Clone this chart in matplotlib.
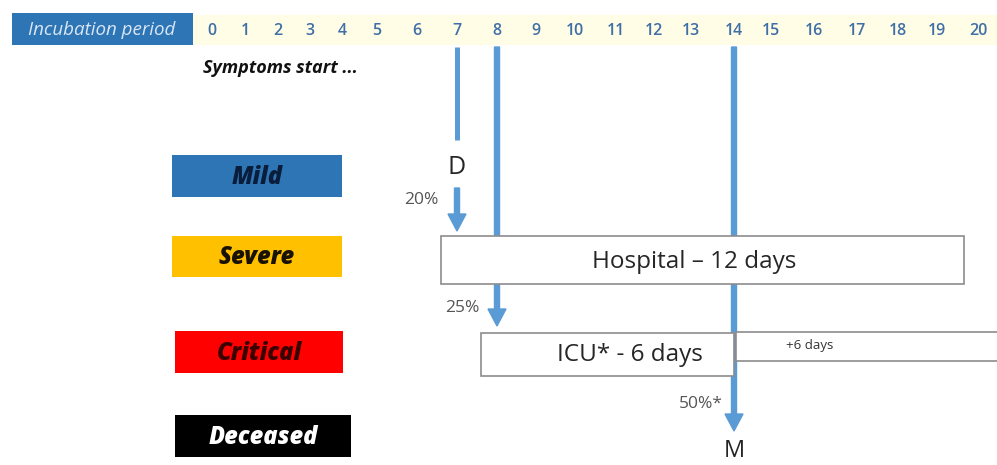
import numpy as np
import matplotlib
matplotlib.use('Agg')
import matplotlib.pyplot as plt
from matplotlib.patches import Rectangle

plt.rcParams['font.family'] = ['Open Sans', 'DejaVu Sans']

# data
days = list(range(21))
categories = ['Mild', 'Severe', 'Critical', 'Deceased']
cat_colors = ['#2E75B6', '#FFC000', '#FF0000', '#000000']
cat_text_colors = ['#0A1E3C', '#1A1200', '#3A0000', '#FFFFFF']
arrow_days = [7, 8, 14]
arrow_pcts = ['20%', '25%', '50%*']
hospital_span = (6.6, 19.65)
icu_span = (7.6, 14)
extra_span = (14, 20.6)
hospital_label = 'Hospital \u2013 12 days'
icu_label = 'ICU* - 6 days'
extra_label = '+6 days'

# layout (pixel positions of day ticks in header)
tick_px = [212, 245, 278, 310, 342, 377, 417, 457, 497, 536, 575,
           616, 654, 691, 734, 771, 814, 857, 898, 937, 978]

def day_x(d):
    return np.interp(d, days, tick_px, right=tick_px[-1] + (d - days[-1]) * 40)

arrow_col = '#5B9BD5'
edge_col = '#8C8C8C'
text_col = '#262626'

fig = plt.figure(figsize=(9.97, 4.65), dpi=100, facecolor='white')
ax = fig.add_axes([0, 0, 1, 1])
ax.set_xlim(0, 997)
ax.set_ylim(465, 0)
ax.axis('off')

# header
ax.add_patch(Rectangle((193, 15), 804, 30, facecolor='#FFFDE6', edgecolor='none', zorder=1))
ax.add_patch(Rectangle((12, 13), 181, 32, facecolor='#2E75B6', edgecolor='none', zorder=2))
ax.text(102, 30, 'Incubation period', color='#D9E6F5', fontsize=13.5, style='italic',
        ha='center', va='center', zorder=3)
for d in days:
    ax.text(day_x(d), 31, str(d), color='#3F6FA6', fontsize=11.5, fontweight='semibold',
            ha='center', va='center', zorder=3)
ax.text(203, 68, 'Symptoms start ...', fontsize=13, fontweight='bold', style='italic',
        ha='left', va='center', color='#111111')

# category boxes
cat_boxes = [(172, 155, 170, 42), (172, 236, 170, 41), (175, 331, 168, 42), (175, 415, 176, 42)]
for (x0, y0, w, h), name, fc, tc in zip(cat_boxes, categories, cat_colors, cat_text_colors):
    ax.add_patch(Rectangle((x0, y0), w, h, facecolor=fc, edgecolor='none', zorder=2))
    ax.text(x0 + w / 2, y0 + h / 2 + 1, name, color=tc, fontsize=17, fontweight='heavy',
            style='italic', ha='center', va='center', zorder=3)

# arrows
def draw_arrow(x, y0, y1):
    ax.arrow(x, y0, 0, y1 - y0, width=5, head_width=18, head_length=17,
             length_includes_head=True, color=arrow_col, zorder=1)

x7, x8, x14 = [day_x(d) for d in arrow_days]
ax.plot([x7, x7], [47, 140], color=arrow_col, lw=3.6, solid_capstyle='butt', zorder=1)
ax.text(x7, 167, 'D', fontsize=18, ha='center', va='center', color=text_col)
draw_arrow(x7, 188, 231)
draw_arrow(x8, 47, 326)
draw_arrow(x14, 47, 431)
ax.text(x7 - 19, 200, arrow_pcts[0], fontsize=12.5, color='#555555', ha='right', va='center')
ax.text(x8 - 18, 308, arrow_pcts[1], fontsize=12.5, color='#555555', ha='right', va='center')
ax.text(x14 - 11, 404, arrow_pcts[2], fontsize=12.5, color='#555555', ha='right', va='center')
ax.text(x14, 463, 'M', fontsize=17, ha='center', va='bottom', color=text_col)

# stay boxes
hx0, hx1 = day_x(hospital_span[0]), day_x(hospital_span[1])
ax.add_patch(Rectangle((hx0, 236), hx1 - hx0, 48, facecolor='white', edgecolor=edge_col, lw=1.2, zorder=4))
ax.text((hx0 + hx1) / 2 - 8, 262, hospital_label, fontsize=17.5, ha='center', va='center',
        color=text_col, zorder=5)

ix0, ix1 = day_x(icu_span[0]), day_x(icu_span[1])
ax.add_patch(Rectangle((ix0, 333), ix1 - ix0, 43, facecolor='white', edgecolor=edge_col, lw=1.2, zorder=4))
ax.text((ix0 + ix1) / 2 + 22, 355, icu_label, fontsize=17.5, ha='center', va='center',
        color=text_col, zorder=5)

ex0, ex1 = day_x(extra_span[0]), day_x(extra_span[1])
ax.add_patch(Rectangle((ex0 + 2, 332), ex1 - ex0, 29, facecolor='white', edgecolor=edge_col, lw=1.2, zorder=4))
ax.text(ex0 + 52, 345, extra_label, fontsize=9.5, ha='left', va='center', color='#333333', zorder=5)

fig.savefig('out.png', dpi=100, facecolor='white')
